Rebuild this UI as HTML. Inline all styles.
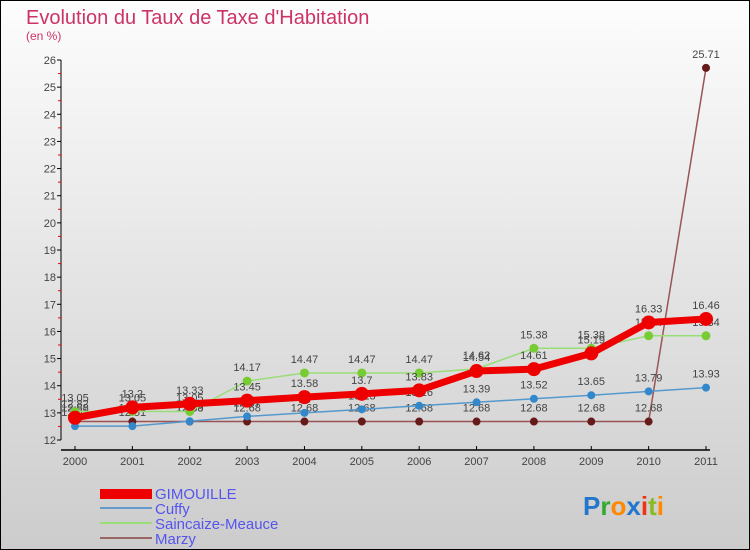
<!DOCTYPE html>
<html><head><meta charset="utf-8"><style>
body{margin:0}
#c{width:750px;height:550px;position:relative;overflow:hidden;font-family:"Liberation Sans",sans-serif}
</style></head><body>
<div id="c">
<svg width="750" height="550" id="svg">
<defs><linearGradient id="bg" x1="0" y1="0" x2="0" y2="1"><stop offset="0" stop-color="#fdfdfd"/><stop offset="1" stop-color="#cccccc"/></linearGradient></defs>
<rect x="0.5" y="0.5" width="749" height="549" fill="url(#bg)" stroke="#000"/>
<text x="26" y="24" font-size="20" fill="#cc3366">Evolution du Taux de Taxe d'Habitation</text>
<text x="26" y="40" font-size="12" fill="#cc3366">(en %)</text>
<g id="axes"></g><g id="series"></g>
<g>
<rect x="100" y="489" width="52" height="10" fill="#ee0000"/>
<text x="155" y="499" font-size="15" fill="#5555ee">GIMOUILLE</text>
<line x1="100" y1="508" x2="152" y2="508" stroke="#6699cc" stroke-width="2"/>
<text x="155" y="514" font-size="15" fill="#5555ee">Cuffy</text>
<line x1="100" y1="523" x2="152" y2="523" stroke="#99dd77" stroke-width="2"/>
<text x="155" y="529" font-size="15" fill="#5555ee">Saincaize-Meauce</text>
<line x1="100" y1="538" x2="152" y2="538" stroke="#996666" stroke-width="2"/>
<text x="155" y="544" font-size="15" fill="#5555ee">Marzy</text>
</g>
<text x="583" y="515" font-size="26" font-weight="bold"><tspan fill="#2277cc">P</tspan><tspan fill="#33aa33">r</tspan><tspan fill="#ff8800">o</tspan><tspan fill="#2277cc">x</tspan><tspan fill="#ee3311">i</tspan><tspan fill="#88bb22">t</tspan><tspan fill="#ff8800">i</tspan></text>
</svg></div>
<script>
const years=[2000,2001,2002,2003,2004,2005,2006,2007,2008,2009,2010,2011];
const yTicks=[12,13,14,15,16,17,18,19,20,21,22,23,24,25,26];
const gimouille=[12.82,13.2,13.33,13.45,13.58,13.7,13.83,14.54,14.61,15.19,16.33,16.46];
const cuffy=[12.51,12.51,12.69,12.87,13,13.13,13.26,13.39,13.52,13.65,13.79,13.93];
const saincaize=[13.05,13.05,13.05,14.17,14.47,14.47,14.47,14.62,15.38,15.38,15.84,15.84];
const marzy=[12.68,12.68,12.68,12.68,12.68,12.68,12.68,12.68,12.68,12.68,12.68,25.71];
const NS="http://www.w3.org/2000/svg";
const X=i=>75+i*(706-75)/(years.length-1);
const Y=v=>440-(v-12)*(380/14);
function mk(t,a,p){const e=document.createElementNS(NS,t);for(const k in a)e.setAttribute(k,a[k]);p.appendChild(e);return e;}
const ax=document.getElementById('axes');
mk('line',{x1:61,y1:Y(26),x2:61,y2:Y(12),stroke:'#000'},ax);
mk('line',{x1:61,y1:450,x2:710,y2:450,stroke:'#000','stroke-width':1.5},ax);
yTicks.forEach(v=>{
  mk('line',{x1:57,y1:Y(v),x2:61,y2:Y(v),stroke:'#000'},ax);
  if(v<26)mk('line',{x1:58,y1:Y(v+0.5),x2:61,y2:Y(v+0.5),stroke:'#e00'},ax);
  const t=mk('text',{x:56,y:Y(v)+4,'font-size':11,fill:'#444','text-anchor':'end'},ax);
  
  
  t.textContent=v;
});
years.forEach((y,i)=>{
  mk('line',{x1:X(i),y1:446,x2:X(i),y2:450,stroke:'#000'},ax);
  const t=mk('text',{x:X(i),y:465,'font-size':11,fill:'#444','text-anchor':'middle'},ax);
  
  
  t.textContent=y;
});
const sg=document.getElementById('series');
function draw(arr,name,col,w,r,fill){
  const g=mk('g',{},sg);
  
  
  mk('polyline',{points:arr.map((v,i)=>X(i)+','+Y(v)).join(' '),fill:'none',stroke:col,'stroke-width':w,'stroke-linejoin':'round'},g);
  arr.forEach((v,i)=>{
    const c=mk('circle',{cx:X(i),cy:Y(v),r:r,fill:fill},g);
    
    
    const t=mk('text',{x:X(i),y:Y(v)-10,'font-size':11,fill:'#444','text-anchor':'middle'},g);
    
    
    t.textContent=v;
  });
}
draw(marzy,'marzy','#995555',1.5,4,'#661a1a');
draw(cuffy,'cuffy','#5599cc',1.5,4,'#3388cc');
draw(saincaize,'saincaize','#99dd77',1.5,4.5,'#77cc33');
draw(gimouille,'gimouille','#ee0000',7,7,'#ee0000');
</script>
</body></html>
